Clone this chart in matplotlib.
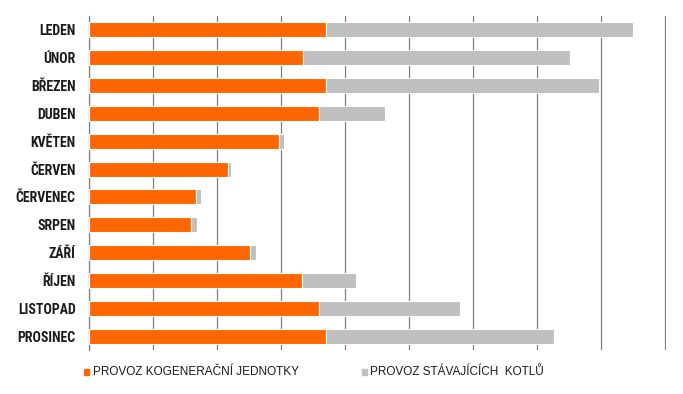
import matplotlib
matplotlib.use('Agg')
import matplotlib.pyplot as plt
from matplotlib.patches import Rectangle

# monthly values (MWh), orange = CHP unit, grey = existing boilers
months = ['LEDEN', 'ÚNOR', 'BŘEZEN', 'DUBEN', 'KVĚTEN', 'ČERVEN',
          'ČERVENEC', 'SRPEN', 'ZÁŘÍ', 'ŘÍJEN', 'LISTOPAD', 'PROSINEC']
kogenerace = [3700, 3340, 3700, 3590, 2970, 2170, 1670, 1590, 2520, 3330, 3590, 3700]
kotle = [4800, 4180, 4270, 1040, 80, 50, 80, 100, 90, 840, 2210, 3570]
series_names = ['PROVOZ KOGENERAČNÍ JEDNOTKY', 'PROVOZ STÁVAJÍCÍCH  KOTLŮ']

orange = '#FF6600'
grey = '#BFBFBF'
narrow = ['Roboto Condensed', 'PT Sans Narrow', 'DejaVu Sans']
regular = ['Liberation Sans', 'DejaVu Sans']

W, H = 683, 394
xmax = 9015
fig = plt.figure(figsize=(W / 100, H / 100), dpi=100)
ax = fig.add_axes([89 / W, 1 - 350 / H, 576 * xmax / 9000 / W, 334 / H])

y = list(range(len(months)))
ax.barh(y, kogenerace, height=0.54, color=orange, edgecolor='white', linewidth=0.8, zorder=3)
ax.barh(y, kotle, left=kogenerace, height=0.54, color=grey, edgecolor='white', linewidth=0.8, zorder=3)

ax.set_xlim(0, xmax)
ax.set_ylim(len(months) - 0.5, -0.5)
ax.set_xticks(range(0, 9001, 1000))
ax.set_xticklabels([])
ax.tick_params(axis='x', length=0)
ax.grid(axis='x', color='#808080', linewidth=0.9, zorder=0)
ax.set_axisbelow(True)

ax.set_yticks(y)
ax.set_yticklabels(months, fontfamily=narrow, fontweight='bold', fontsize=10, color='#1a1a1a')
ax.tick_params(axis='y', length=0, pad=9.5)

for s in ['top', 'right', 'bottom']:
    ax.spines[s].set_visible(False)
ax.spines['left'].set_color('#808080')
ax.spines['left'].set_linewidth(0.9)

# legend below the plot
for (x0, xt), col, name in zip([(84, 93), (362, 370)], [orange, grey], series_names):
    fig.patches.append(Rectangle((x0 / W, 1 - 375 / H), 5 / W, 6 / H,
                                 transform=fig.transFigure, color=col))
    fig.text(xt / W, 1 - 372 / H, name, va='center', ha='left',
             fontfamily=regular, fontsize=8.5, color='#1a1a1a')

fig.savefig('out.png', dpi=100)
